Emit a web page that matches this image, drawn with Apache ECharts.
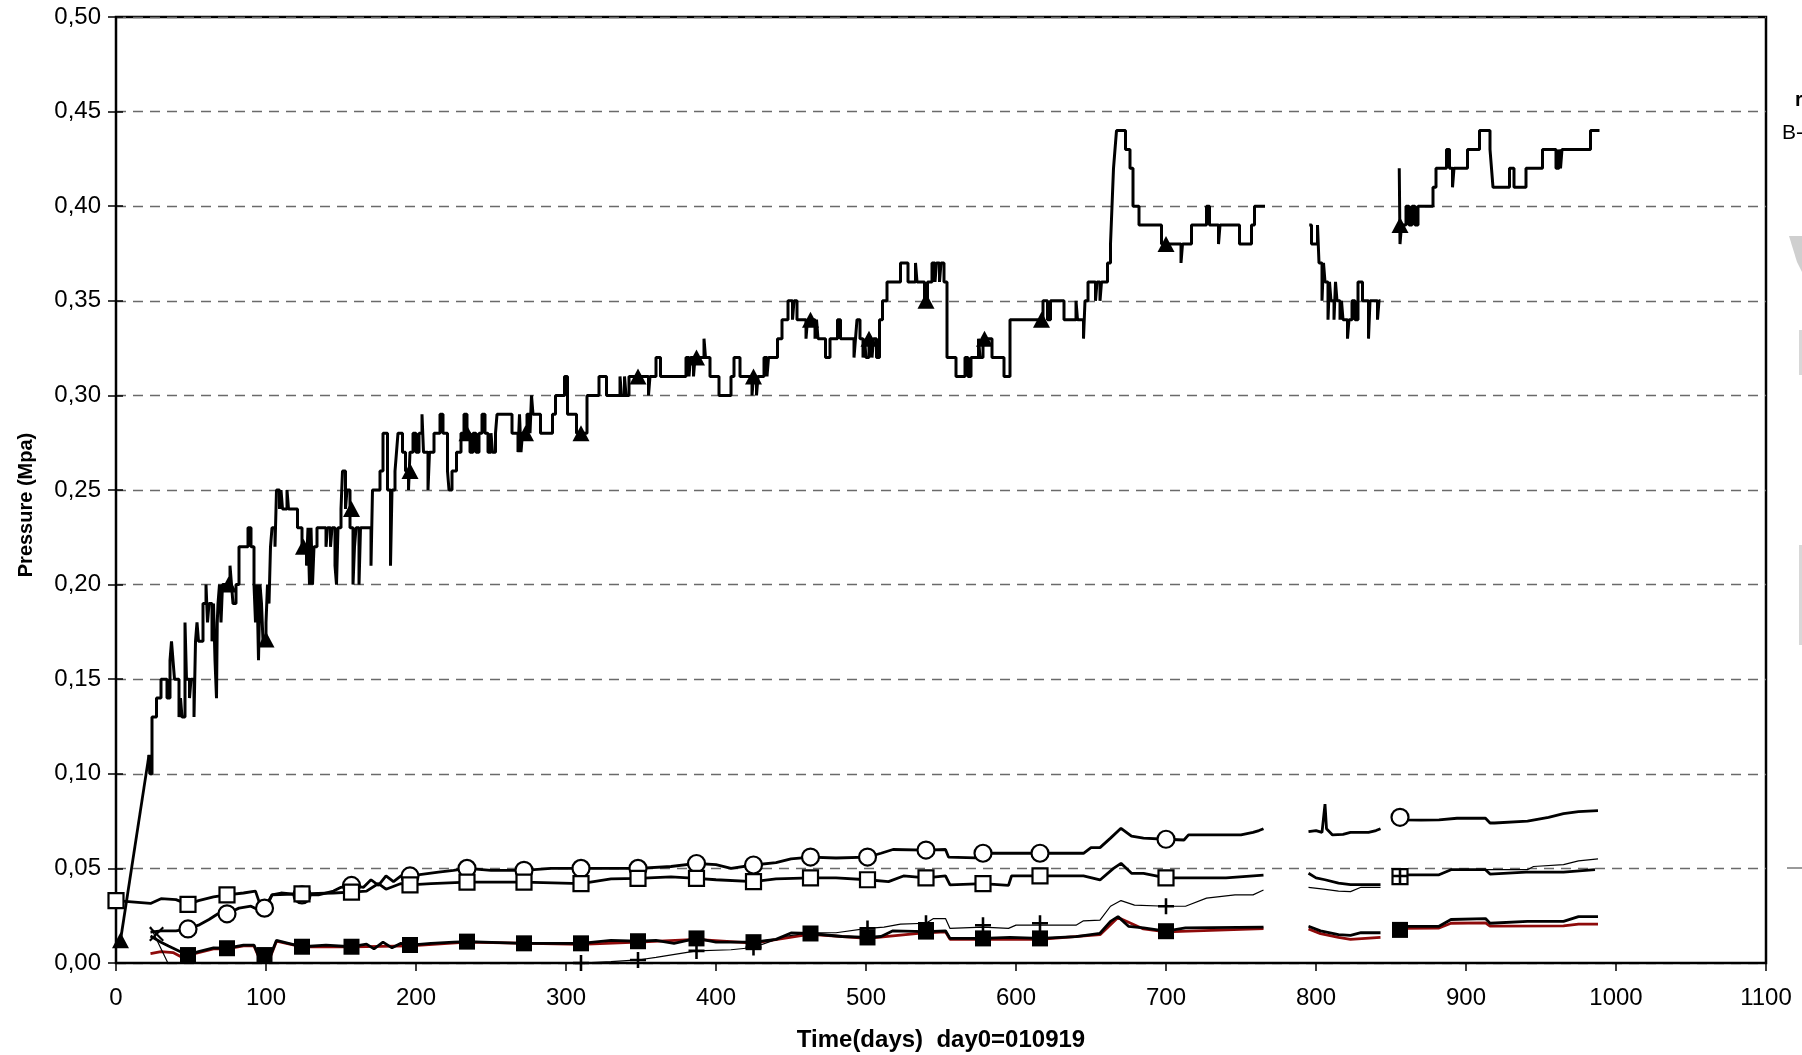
<!DOCTYPE html>
<html><head><meta charset="utf-8">
<script src="https://cdn.jsdelivr.net/npm/echarts@6/dist/echarts.min.js"></script>
<style>html,body{margin:0;padding:0;background:#fff}#c{width:1802px;height:1055px}</style>
</head><body><div id="c"></div>
<script>
// ---------- DATA (day, MPa); null separates segments ----------
const mainRamp = [[3,0.012],[22,0.11]];
const mainSteps = [
[22,0.11],[22.5,0.10],[24,0.13],[27,0.14],[30,0.15],[34,0.14],[36,0.16],[37,0.17],[38,0.16],[39,0.15],[42,0.13],[43,0.14],[44,0.13],[46,0.18],[47,0.15],[49,0.14],[50,0.15],[52,0.13],[53,0.17],[54,0.18],[55,0.17],[58,0.19],[60,0.20],[61,0.18],[62,0.19],[64,0.17],[65,0.19],[66,0.16],[67,0.14],[67.5,0.18],[68,0.19],[69,0.20],[70,0.18],[71,0.20],[76,0.21],[77,0.20],[78,0.19],[80,0.20],[82,0.22],[88,0.23],[90,0.22],[92,0.20],[93,0.18],[94,0.20],[95,0.16],[96,0.20],[97,0.19],[98,0.17],[100,0.18],[101,0.20],[102,0.19],[103,0.22],[104,0.23],[106,0.22],[107,0.25],[109,0.24],[110,0.25],[111,0.24],[114,0.25],[115,0.24],[121,0.23],[124,0.22],[127,0.21],[128,0.23],[129,0.20],[130,0.23],[131,0.20],[132,0.22],[134,0.23],[140,0.22],[141,0.23],[143,0.22],[144,0.23],[146,0.21],[147,0.20],[148,0.23],[150,0.24],[151,0.26],[153,0.24],[154,0.25],[156,0.23],[158,0.20],[159,0.22],[160,0.23],[162,0.20],[163,0.23],[170,0.21],[171,0.25],[176,0.26],[178,0.28],[181,0.25],[183,0.21],[184,0.25],[186,0.26],[187,0.27],[188,0.28],[191,0.27],[193,0.26],[195,0.25],[196,0.27],[198,0.28],
[200,0.27],[202,0.28],[204,0.29],[205,0.27],[208,0.25],[209,0.27],[212,0.28],[216,0.29],[218,0.28],[221,0.26],[222,0.25],[224,0.26],[227,0.27],[230,0.28],[232,0.29],[234,0.28],[236,0.27],[238,0.28],[240,0.27],[242,0.28],[244,0.29],[246,0.28],[248,0.27],[250,0.28],[251,0.27],[253,0.28],[254,0.29],[264,0.28],[268,0.27],[269,0.29],[270,0.27],[271,0.28],[274,0.29],[276,0.28],[277,0.30],[278,0.29],[283,0.28],[291,0.29],[293,0.30],[299,0.31],[301,0.29],[307,0.28],[314,0.30],[322,0.31],[327,0.30],[336,0.31],[337,0.30],[339,0.31],[340,0.30],[342,0.31],[355,0.30],[356,0.31],[360,0.32],[363,0.31],[380,0.32],[382,0.31],[383,0.32],[385,0.31],[386,0.32],[392,0.33],[393,0.32],[396,0.31],
[400,0.31],[402,0.30],[410,0.31],[412,0.32],[416,0.31],[424,0.30],[425,0.31],[427,0.30],[428,0.31],[432,0.32],[434,0.31],[435,0.32],[441,0.33],[444,0.34],[448,0.35],[451,0.34],[452,0.35],[454,0.34],[460,0.33],[461,0.34],[466,0.33],[467,0.34],[468,0.33],[473,0.32],[476,0.33],[481,0.34],[483,0.33],[492,0.32],[493,0.33],[494,0.34],[496,0.33],[498,0.32],[499,0.33],[500,0.32],[502,0.33],[504,0.32],[505,0.33],[507,0.32],[509,0.34],[511,0.35],[514,0.36],[523,0.37],[528,0.36],[533,0.37],[534,0.36],[539,0.35],[541,0.36],[544,0.37],[546,0.36],[547,0.37],[549,0.36],[550,0.37],[552,0.36],[554,0.32],[560,0.31],[566,0.32],[568,0.31],[570,0.32],[575,0.33],[576,0.32],[578,0.33],[584,0.32],[592,0.31],[596,0.34],
[618,0.35],[621,0.34],[623,0.35],[632,0.34],[640,0.35],[641,0.34],[645,0.33],[646,0.35],[648,0.36],[653,0.35],[654,0.36],[656,0.35],[657,0.36],[661,0.37],[663,0.38],[664,0.40],[665,0.42],[666,0.43],[667,0.44],[673,0.43],[676,0.42],[678,0.40],[682,0.39],[697,0.38],[710,0.37],[711,0.38],[717,0.39],[727,0.40],[729,0.39],[735,0.38],[736,0.39],[749,0.38],[757,0.39],[759,0.40],[766,0.40],
null,
[795.5,0.39],[797,0.38],[801,0.39],[802,0.37],[804,0.35],[805,0.37],[806,0.36],[808,0.34],[809,0.36],[810,0.35],[812,0.34],[813,0.36],[814,0.35],[816,0.34],[817,0.35],[818,0.34],[821,0.33],[822,0.34],[824,0.35],[826,0.34],[828,0.36],[831,0.35],[835,0.33],[836,0.35],[841,0.34],[842,0.35],[843,0.35],
null,
[855.5,0.42],[856,0.38],[857,0.39],[860,0.40],[862,0.39],[864,0.40],[866,0.39],[868,0.40],[878,0.41],[880,0.42],[887,0.43],[889,0.42],[891,0.41],[892,0.42],[901,0.43],[909,0.44],[916,0.43],[917,0.42],[918,0.41],[929,0.42],[932,0.41],[940,0.42],[951,0.43],[960,0.42],[962,0.43],[963,0.42],[964,0.43],[983,0.44],[989,0.44]
];
const circleLine = [
[23,0.0163],[30,0.017],[40,0.017],[48,0.018],[55,0.020],[62,0.023],[68,0.026],[74,0.026],[82,0.029],[90,0.030],[95,0.028],[99,0.029],[104,0.036],[110,0.037],[124,0.036],[135,0.036],[145,0.038],[150,0.040],[157,0.041],[165,0.040],[170,0.044],[175,0.041],[180,0.046],[185,0.043],[190,0.046],[196,0.046],[205,0.047],[215,0.048],[225,0.049],[234,0.050],[250,0.049],[272,0.049],[290,0.050],[310,0.050],[330,0.050],[348,0.050],[370,0.051],[387,0.0526],[400,0.052],[410,0.050],[425,0.0518],[440,0.053],[450,0.055],[463,0.056],[480,0.0555],[501,0.056],[510,0.058],[518,0.060],[540,0.0597],[553,0.060],[555,0.056],[573,0.0556],[578,0.058],[596,0.058],[616,0.058],[645,0.058],[650,0.061],[656,0.061],[663,0.066],[670,0.0712],[677,0.067],[685,0.066],[700,0.0654],[712,0.065],[715,0.0677],[750,0.0677],[758,0.069],[762,0.070],[765,0.071],
null,
[795,0.0694],[800,0.070],[804,0.069],[806,0.084],[807,0.071],[811,0.0677],[818,0.068],[823,0.069],[835,0.069],[840,0.070],[843,0.071],
null,
[851,0.077],[855,0.077],[858,0.0756],[870,0.0755],[882,0.0756],[894,0.0765],[913,0.0765],[916,0.074],[919,0.074],[941,0.075],[955,0.077],[965,0.0789],[975,0.080],[988,0.0805]
];
const openSquareLine = [
[0,0.033],[23,0.0315],[30,0.034],[40,0.0335],[48,0.031],[55,0.033],[65,0.035],[74,0.036],[85,0.037],[93,0.038],[96,0.031],[100,0.029],[104,0.036],[124,0.0365],[145,0.037],[157,0.0375],[167,0.038],[175,0.042],[180,0.039],[190,0.042],[196,0.0413],[210,0.042],[234,0.0427],[272,0.0427],[310,0.042],[330,0.0445],[348,0.0447],[370,0.0455],[387,0.0447],[400,0.044],[425,0.043],[440,0.0445],[463,0.045],[480,0.045],[501,0.044],[515,0.043],[525,0.046],[540,0.045],[553,0.046],[556,0.0413],[578,0.042],[595,0.041],[597,0.046],[616,0.046],[645,0.046],[656,0.0439],[665,0.050],[670,0.0527],[677,0.0474],[685,0.0474],[700,0.045],[740,0.045],[765,0.0465],
null,
[795,0.0474],[800,0.045],[806,0.044],[815,0.0422],[823,0.0414],[843,0.0414],
null,
[855,0.0456],[858,0.0466],[882,0.0466],[890,0.0493],[913,0.0493],[916,0.047],[940,0.048],[965,0.048],[986,0.0493]
];
const filledSquareLine = [
[23,0.0143],[30,0.011],[35,0.009],[43,0.006],[48,0.0042],[55,0.006],[65,0.008],[74,0.0078],[85,0.0095],[92,0.0095],[95,0.004],[103,0.004],[107,0.012],[115,0.0104],[124,0.0086],[140,0.0095],[157,0.0086],[167,0.010],[172,0.0075],[178,0.011],[184,0.008],[190,0.0104],[196,0.0095],[210,0.0104],[225,0.011],[234,0.0113],[272,0.0104],[310,0.0104],[330,0.012],[348,0.0115],[360,0.012],[372,0.0104],[387,0.013],[400,0.011],[425,0.011],[440,0.0125],[450,0.0159],[463,0.0156],[484,0.014],[501,0.0135],[510,0.014],[518,0.017],[540,0.0166],[553,0.017],[556,0.013],[578,0.013],[596,0.0135],[616,0.013],[640,0.0139],[656,0.0157],[663,0.022],[668,0.0245],[675,0.0194],[685,0.0186],[700,0.0168],[713,0.0186],[765,0.019],
null,
[795,0.0194],[803,0.017],[815,0.015],[823,0.0146],[830,0.016],[843,0.016],
null,
[851,0.0175],[856,0.0175],[858,0.0194],[882,0.0194],[890,0.023],[913,0.0235],[916,0.021],[941,0.022],[965,0.022],[975,0.0245],[988,0.0245]
];
const redLine = [
[23,0.005],[30,0.006],[38,0.0055],[43,0.0035],[48,0.004],[55,0.0055],[65,0.0075],[74,0.0075],[85,0.009],[92,0.009],[95,0.0035],[103,0.0035],[107,0.0115],[124,0.0085],[157,0.0085],[196,0.009],[234,0.011],[310,0.0098],[348,0.011],[387,0.0125],[425,0.0105],[463,0.0152],[501,0.013],[540,0.016],[553,0.0165],[556,0.0125],[616,0.0125],[656,0.015],[668,0.024],[685,0.018],[700,0.0165],[765,0.0182],
null,
[795,0.018],[803,0.0155],[815,0.0135],[823,0.0125],[843,0.0135],
null,
[851,0.0165],[858,0.0183],[882,0.0185],[890,0.021],[913,0.0212],[916,0.0195],[965,0.0196],[975,0.0205],[988,0.0205]
];
const plusLine = [
[23,0.0192],[37,-0.004],[45,-0.008],[100,-0.008],[150,-0.006],[180,-0.003],[250,-0.002],[300,-0.0005],[310,0.0],[330,0.0007],[348,0.0016],[360,0.003],[387,0.0064],[410,0.007],[425,0.0082],[435,0.011],[445,0.0139],[463,0.016],[480,0.016],[501,0.0183],[512,0.019],[523,0.0205],[540,0.021],[545,0.0235],[553,0.0235],[556,0.0183],[578,0.019],[595,0.0183],[600,0.020],[616,0.020],[640,0.020],[645,0.0223],[656,0.0227],[663,0.030],[670,0.033],[679,0.0306],[700,0.030],[713,0.030],[727,0.0343],[746,0.036],[758,0.036],[765,0.0386],
null,
[795,0.040],[805,0.039],[815,0.038],[823,0.0377],[830,0.040],[843,0.040],
null,
[855,0.046],[858,0.0466],[882,0.0466],[890,0.0493],[913,0.0493],[941,0.0493],[945,0.051],[965,0.052],[975,0.054],[988,0.055]
];
// marker positions
const triangleMarks = [[3,0.012],[75,0.20],[100,0.171],[125,0.22],[157,0.24],[196,0.26],[234,0.28],[273,0.28],[310,0.28],[348,0.31],[387,0.32],[425,0.31],[463,0.34],[502,0.33],[540,0.35],[579,0.33],[617,0.34],[700,0.38],[856,0.39]];
const circleMarks = [[48,0.018],[74,0.026],[99,0.029],[124,0.036],[157,0.041],[196,0.046],[234,0.050],[272,0.049],[310,0.050],[348,0.050],[387,0.0526],[425,0.0518],[463,0.056],[501,0.056],[540,0.0597],[578,0.058],[616,0.058],[700,0.0654],[856,0.077]];
const openSquareMarks = [[0,0.033],[48,0.031],[74,0.036],[124,0.0365],[157,0.0375],[196,0.0413],[234,0.0427],[272,0.0427],[310,0.042],[348,0.0447],[387,0.0447],[425,0.043],[463,0.045],[501,0.044],[540,0.045],[578,0.042],[616,0.046],[700,0.045],[856,0.0456]];
const filledSquareMarks = [[48,0.0042],[74,0.0078],[99,0.0042],[124,0.0086],[157,0.0086],[196,0.0095],[234,0.0113],[272,0.0104],[310,0.0104],[348,0.0115],[387,0.013],[425,0.011],[463,0.0156],[501,0.0135],[540,0.0166],[578,0.013],[616,0.013],[700,0.0168],[856,0.0175]];
const plusMarks = [[310,0.0],[348,0.0016],[387,0.0064],[425,0.0082],[501,0.0183],[540,0.021],[578,0.020],[616,0.021],[700,0.030],[856,0.046]];
const crossMarks = [[27,0.0153]];

const xTitle = 'Time(days)  day0=010919';
const yTitle = 'Pressure (Mpa)';

// ---------- build ----------
function segs(arr){const out=[];let cur=[];arr.forEach(p=>{if(p===null){if(cur.length)out.push(cur);cur=[];}else cur.push(p);});if(cur.length)out.push(cur);return out;}
const series=[];
function addLine(arr,color,width,step,z){
  segs(arr).forEach(s=>series.push({type:'line',data:s,step:step||false,showSymbol:false,symbol:'none',
    lineStyle:{color:color,width:width},itemStyle:{color:color},clip:true,z:z||2,silent:true,animation:false}));
}
addLine(redLine,'#8e0a0a',2.8,false,2);
addLine(filledSquareLine,'#000',2.8,false,3);
addLine(plusLine,'#000',1.2,false,3);
addLine(openSquareLine,'#000',2.8,false,3);
addLine(circleLine,'#000',2.8,false,3);
addLine(mainRamp,'#000',2.8,false,3);
addLine(mainSteps,'#000',3,'end',3);
function addMarks(data,symbol,size,fill,border,bw){
  series.push({type:'scatter',data:data,symbol:symbol,symbolSize:size,clip:true,z:5,silent:true,animation:false,
    itemStyle:{color:fill,borderColor:border,borderWidth:bw,opacity:1}});
}
addMarks(triangleMarks,'triangle',[17,16],'#000','#000',0);
addMarks(circleMarks,'circle',17,'#fff','#000',2.2);
addMarks(openSquareMarks,'rect',15,'#fff','#000',2.2);
addMarks(filledSquareMarks,'rect',16,'#000','#000',0);
addMarks(plusMarks,'path://M4.2,0H5.8V4.2H10V5.8H5.8V10H4.2V5.8H0V4.2H4.2Z',16,'#000','#000',0);
addMarks(crossMarks,'path://M1,0L5,4L9,0L10,1L6,5L10,9L9,10L5,6L1,10L0,9L4,5L0,1Z',15,'#000','#000',0);

const font='Liberation Sans, Arial, sans-serif';
const chart=echarts.init(document.getElementById('c'),null,{renderer:'canvas'});
chart.setOption({
  animation:false,
  backgroundColor:'#fff',
  grid:{left:116,right:36,top:17,bottom:92,show:true,borderColor:'#000',borderWidth:2.5,backgroundColor:'transparent',outerBoundsMode:'none'},
  xAxis:{type:'value',min:0,max:1100,interval:100,
    axisLine:{show:true,onZero:false,lineStyle:{color:'#000',width:2}},
    axisTick:{show:true,length:8,lineStyle:{color:'#000',width:1.5}},
    axisLabel:{color:'#000',fontSize:24,fontFamily:font,margin:23,formatter:v=>String(v)},
    splitLine:{show:false},
    name:xTitle,nameLocation:'middle',nameGap:65,
    nameTextStyle:{fontWeight:'bold',fontSize:24,color:'#000',fontFamily:font}},
  yAxis:[{type:'value',min:0,max:0.5,interval:0.05,
    axisLine:{show:true,onZero:false,lineStyle:{color:'#000',width:2}},
    axisTick:{show:true,length:8,lineStyle:{color:'#000',width:1.5}},
    axisLabel:{color:'#000',fontSize:24,fontFamily:font,margin:15,formatter:v=>v.toFixed(2).replace('.',',')},
    splitLine:{show:true,lineStyle:{color:'#6a6a6a',width:1.3,type:[10,7]}},
    name:yTitle,nameLocation:'middle',nameGap:80,
    nameTextStyle:{fontWeight:'bold',fontSize:20,color:'#000',fontFamily:font,padding:[0,30,0,0]}},
   {type:'value',min:0,max:0.5,interval:0.05,position:'left',
    axisLine:{show:false},axisTick:{show:true,inside:true,length:7,lineStyle:{color:'#000',width:1.5}},
    axisLabel:{show:false},splitLine:{show:false}}],
  graphic:[
    {type:'text',left:1795,top:90,style:{text:'r',font:'bold 20px '+font,fill:'#000'}},
    {type:'text',left:1782,top:123,style:{text:'B-',font:'21px '+font,fill:'#000'}},
    {type:'line',shape:{x1:1787,y1:868,x2:1802,y2:868},style:{stroke:'#9a9a9a',lineWidth:2}},
    {type:'polygon',shape:{points:[[1789,236],[1802,236],[1802,272],[1797,262]]},style:{fill:'#cfcfcf'}},
    {type:'rect',shape:{x:1799,y:330,width:3,height:45},style:{fill:'#d8d8d8'}},
    {type:'rect',shape:{x:1799,y:545,width:3,height:100},style:{fill:'#d8d8d8'}}
  ],
  series:series
});
</script></body></html>
